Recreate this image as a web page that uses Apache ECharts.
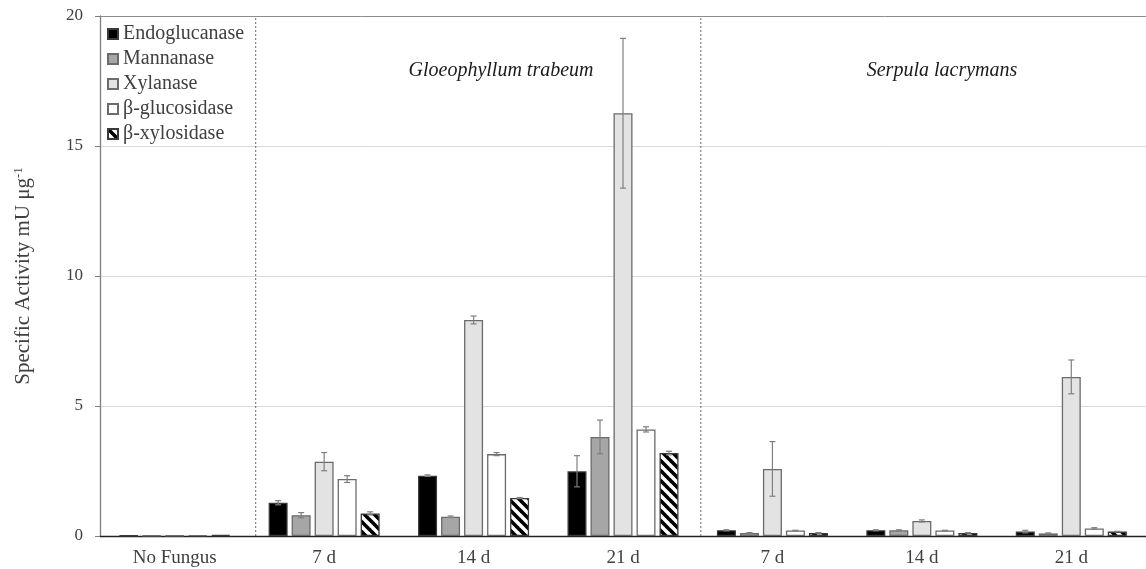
<!DOCTYPE html>
<html>
<head>
<meta charset="utf-8">
<script src="https://cdn.jsdelivr.net/npm/echarts@6/dist/echarts.min.js"></script>
<style>html,body{margin:0;padding:0;background:#fff;}#c{width:1146px;height:569px;}</style>
</head>
<body>
<div id="c"></div>
<script>
const categories = ['No Fungus', '7 d', '14 d', '21 d', '7 d', '14 d', '21 d'];
const seriesNames = ['Endoglucanase', 'Mannanase', 'Xylanase', 'β-glucosidase', 'β-xylosidase'];
const endoglucanase = [0.02, 1.28, 2.32, 2.49, 0.22, 0.22, 0.17];
const endoglucanaseErr = [0, 0.08, 0.03, 0.60, 0.02, 0.02, 0.05];
const mannanase = [0.02, 0.80, 0.74, 3.81, 0.12, 0.22, 0.10];
const mannanaseErr = [0, 0.10, 0.03, 0.65, 0.01, 0.02, 0.02];
const xylanase = [0.02, 2.86, 8.31, 16.26, 2.58, 0.58, 6.12];
const xylanaseErr = [0, 0.35, 0.15, 2.88, 1.05, 0.04, 0.65];
const glucosidase = [0.03, 2.19, 3.15, 4.10, 0.21, 0.21, 0.29];
const glucosidaseErr = [0, 0.13, 0.06, 0.10, 0.01, 0.01, 0.03];
const xylosidase = [0.04, 0.87, 1.46, 3.19, 0.12, 0.12, 0.17];
const xylosidaseErr = [0, 0.06, 0.02, 0.07, 0.01, 0.01, 0.01];
const yTicks = [0, 5, 10, 15, 20];
const groupLabels = ['Gloeophyllum trabeum', 'Serpula lacrymans'];
const separatorPositions = [1.042, 4.021]; // in category units along the axis

const values = [endoglucanase, mannanase, xylanase, glucosidase, xylosidase];
const errors = [endoglucanaseErr, mannanaseErr, xylanaseErr, glucosidaseErr, xylosidaseErr];

// hatch pattern
const tile = document.createElement('canvas');
const S = 10;
tile.width = S; tile.height = S;
const g = tile.getContext('2d');
g.fillStyle = '#fff'; g.fillRect(0, 0, S, S);
g.strokeStyle = '#000'; g.lineWidth = 3.6;
for (let k = -1; k <= 1; k++) {
  g.beginPath(); g.moveTo(k * S - 2, -2); g.lineTo(k * S + S + 2, S + 2); g.stroke();
}

const fills = ['#000000', '#a6a6a6', '#e3e3e3', '#ffffff', { image: tile, repeat: 'repeat' }];
const borders = ['#3a3a3a', '#6b6b6b', '#6b6b6b', '#6b6b6b', '#3a3a3a'];

const BAR_W = 19, BAR_GAP_PX = 4;

const series = [];
seriesNames.forEach((name, i) => {
  series.push({
    name: name, type: 'bar', xAxisIndex: 0, yAxisIndex: 0,
    data: values[i], barWidth: BAR_W, barGap: (BAR_GAP_PX / BAR_W * 100).toFixed(1) + '%',
    itemStyle: { color: fills[i], borderColor: borders[i], borderWidth: 1.3 },
    emphasis: { disabled: true }
  });
});
seriesNames.forEach((name, i) => {
  const offset = (i - 2) * (BAR_W + BAR_GAP_PX);
  series.push({
    type: 'custom', xAxisIndex: 0, yAxisIndex: 0, z: 5, silent: true,
    data: values[i].map((v, j) => [j, v, errors[i][j]]),
    renderItem: function (params, api) {
      const x = api.value(0), v = api.value(1), e = api.value(2);
      if (!e) return { type: 'group', children: [] };
      const hi = api.coord([x, v + e]);
      const lo = api.coord([x, Math.max(0, v - e)]);
      const cx = hi[0] + offset;
      const st = { stroke: '#7f7f7f', lineWidth: 1.2 };
      return {
        type: 'group', children: [
          { type: 'line', shape: { x1: cx, y1: hi[1], x2: cx, y2: lo[1] }, style: st },
          { type: 'line', shape: { x1: cx - 3, y1: hi[1], x2: cx + 3, y2: hi[1] }, style: st },
          { type: 'line', shape: { x1: cx - 3, y1: lo[1], x2: cx + 3, y2: lo[1] }, style: st }
        ]
      };
    }
  });
});
separatorPositions.forEach(p => {
  series.push({
    type: 'line', xAxisIndex: 1, yAxisIndex: 0, silent: true, symbol: 'none',
    data: [[p, 0], [p, 20]],
    lineStyle: { color: '#6a6a6a', width: 1, type: [2, 2] }
  });
});

const chart = echarts.init(document.getElementById('c'), null, { renderer: 'canvas' });
chart.setOption({
  animation: false,
  textStyle: { fontFamily: 'Liberation Serif' },
  grid: { left: 100, width: 1048, top: 16, bottom: 33, containLabel: false },
  legend: {
    data: seriesNames, orient: 'vertical', left: 102, top: 19,
    itemWidth: 10, itemHeight: 10, itemGap: 5, icon: 'rect',
    textStyle: { fontFamily: 'Liberation Serif', fontSize: 20, color: '#404040' },
    selectedMode: false
  },
  xAxis: [{
    type: 'category', data: categories, boundaryGap: true,
    axisLine: { lineStyle: { color: '#222', width: 1.3 } },
    axisTick: { show: false },
    axisLabel: { fontSize: 19, color: '#404040', margin: 13, fontFamily: 'Liberation Serif' }
  }, {
    type: 'value', min: 0, max: categories.length, show: false
  }],
  yAxis: {
    type: 'value', min: yTicks[0], max: yTicks[yTicks.length - 1], interval: 5, offset: 3,
    name: 'Specific Activity mU μg{sup|-1}', nameLocation: 'middle', nameGap: 62,
    nameTextStyle: {
      fontSize: 21, color: '#404040', fontFamily: 'Liberation Serif',
      rich: { sup: { fontSize: 13, color: '#404040', fontFamily: 'Liberation Serif', verticalAlign: 'top', padding: [0, 0, 10, 0] } }
    },
    axisLine: { show: true, lineStyle: { color: '#7f7f7f', width: 1.3 } },
    axisTick: { show: true, length: 5, lineStyle: { color: '#7f7f7f' } },
    axisLabel: { fontSize: 17, color: '#404040', margin: 14, fontFamily: 'Liberation Serif' },
    splitLine: { show: true, lineStyle: { color: ['#d9d9d9', '#d9d9d9', '#d9d9d9', '#d9d9d9', '#8c8c8c'], width: 1 } }
  },
  graphic: [
    { type: 'text', x: 501, y: 71, style: { text: groupLabels[0], font: 'italic 20px "Liberation Serif"', fill: '#1a1a1a', align: 'center', verticalAlign: 'middle' } },
    { type: 'text', x: 942, y: 71, style: { text: groupLabels[1], font: 'italic 20px "Liberation Serif"', fill: '#1a1a1a', align: 'center', verticalAlign: 'middle' } }
  ],
  series: series
});
</script>
</body>
</html>
